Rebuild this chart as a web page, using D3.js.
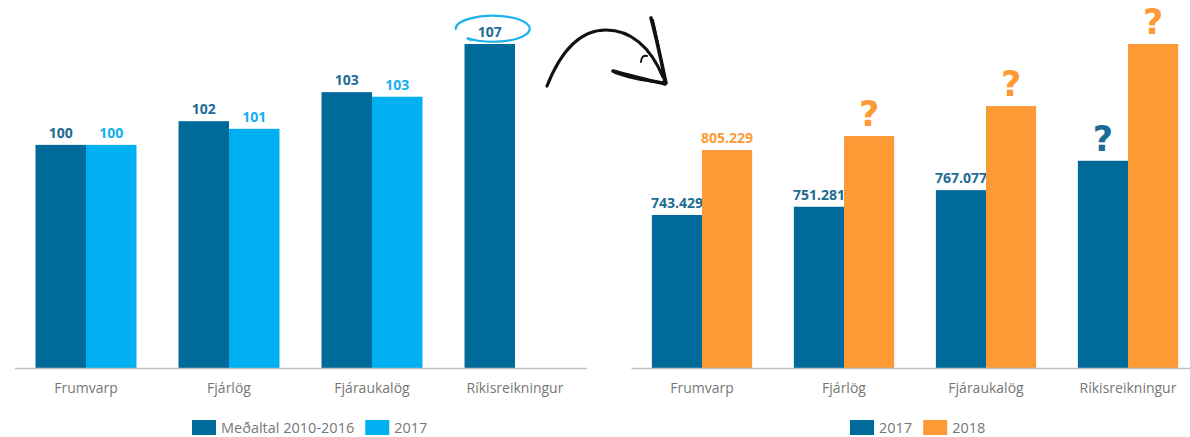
<!DOCTYPE html>
<html>
<head>
<meta charset="utf-8">
<script src="https://cdn.jsdelivr.net/npm/d3@7"></script>
<style>
  body { margin: 0; background: #fff; }
  svg { display: block; font-family: "Open Sans", sans-serif; }
  .axis .domain { stroke: #bfbfbf; stroke-width: 1.5; }
  .axis text { fill: #777; font-size: 14px; font-family: "Open Sans", sans-serif; }
  .legend text { fill: #777; font-size: 14.5px; }
</style>
</head>
<body>
<script>

// categories shared by both charts
var categories = ["Frumvarp", "Fjárlög", "Fjáraukalög", "Ríkisreikningur"];

// left chart: index, frumvarp = 100
var avg2010_2016 = [100, 101.55, 103.45, 106.6];
var index2017 = [100, 101.05, 103.15, null];

// right chart: m.kr. (values marked unknown are drawn with "?")
var spend2017 = [743429, 751281, 767077, 795000];
var spend2018 = [805229, 818500, 847000, 906000];
var known2017 = [true, true, true, false];
var known2018 = [true, false, false, false];

var width = 1190,
    height = 437,
    baseline = 368,
    plotTop = 44;

var dark = "#006a9a",
    light = "#00b0f0",
    orange = "#fd9a35";

var svg = d3.select("body").append("svg")
    .attr("width", width)
    .attr("height", height);

var isl = d3.formatLocale({decimal: ",", thousands: ".", grouping: [3], currency: ["", " kr."]});

function barChart(opts) {
    var x0 = d3.scaleBand()
        .domain(categories)
        .range(opts.range)
        .paddingInner(0.294)
        .paddingOuter(0.147);

    var x1 = d3.scaleBand()
        .domain(opts.series.map(function(s) { return s.name; }))
        .range([0, x0.bandwidth()]);

    var g = svg.append("g");

    opts.series.forEach(function(s) {
        var rows = categories.map(function(c, i) {
            return {cat: c, value: s.values[i], known: s.known ? s.known[i] : true};
        }).filter(function(d) { return d.value != null; });

        g.append("g").selectAll("rect")
            .data(rows)
            .enter().append("rect")
            .attr("x", function(d) { return x0(d.cat) + x1(s.name); })
            .attr("y", function(d) { return opts.y(d.value); })
            .attr("width", x1.bandwidth())
            .attr("height", function(d) { return baseline - opts.y(d.value); })
            .attr("fill", s.color);

        // value labels, or a big "?" where the number is not known yet
        g.append("g").selectAll("text")
            .data(rows)
            .enter().append("text")
            .attr("x", function(d) { return x0(d.cat) + x1(s.name) + x1.bandwidth() / 2; })
            .attr("y", function(d) { return opts.y(d.value) - (d.known ? 7 : 10); })
            .attr("text-anchor", "middle")
            .attr("font-weight", "bold")
            .attr("font-family", function(d) { return d.known ? "Open Sans, sans-serif" : "DejaVu Sans, sans-serif"; })
            .attr("font-size", function(d) { return d.known ? 14 : 35; })
            .attr("fill", s.labelColor)
            .text(function(d) { return d.known ? opts.format(d.value) : "?"; });
    });

    g.append("g")
        .attr("class", "axis")
        .attr("transform", "translate(0," + baseline + ")")
        .call(d3.axisBottom(x0).tickSize(0).tickSizeOuter(0).tickPadding(15));

    // legend
    var lg = g.append("g").attr("class", "legend").attr("transform", "translate(0,420)");
    var lx = opts.legendX;
    opts.series.forEach(function(s) {
        lg.append("rect")
            .attr("x", lx).attr("y", 0)
            .attr("width", 24).attr("height", 15)
            .attr("fill", s.color);
        var t = lg.append("text")
            .attr("x", lx + 29).attr("y", 13)
            .text(s.name);
        lx += 29 + t.node().getComputedTextLength() + 11;
    });

    return {x0: x0, x1: x1};
}

var yLeft = d3.scaleLinear().domain([85.4, 106.6]).range([baseline, plotTop]);
var yRight = d3.scaleLinear().domain([598000, 906000]).range([baseline, plotTop]);

var left = barChart({
    range: [14.5, 586.5],
    y: yLeft,
    format: d3.format(".0f"),
    legendX: 192,
    series: [
        {name: "Meðaltal 2010-2016", values: avg2010_2016, color: dark, labelColor: "#1d6c96"},
        {name: "2017", values: index2017, color: light, labelColor: "#16aeee"}
    ]
});

barChart({
    range: [631, 1199],
    y: yRight,
    format: isl.format(","),
    legendX: 850,
    series: [
        {name: "2017", values: spend2017, known: known2017, color: dark, labelColor: "#1d6c96"},
        {name: "2018", values: spend2018, known: known2018, color: orange, labelColor: orange}
    ]
});

// hand drawn ring round the 107 label
var rx = left.x0("Ríkisreikningur") + left.x1.bandwidth() / 2 + 3,
    ry = yLeft(avg2010_2016[3]) - 16;
svg.append("path")
    .attr("d", "M" + (rx - 37) + "," + (ry + 1) +
        " A37,13 0 1,1 " + (rx - 26) + "," + (ry + 10) +
        " L" + (rx - 22) + "," + (ry + 12))
    .attr("fill", "none")
    .attr("stroke", "#1cb1ec")
    .attr("stroke-width", 2.2)
    .attr("stroke-linecap", "round");

// curved arrow between the charts
var arrow = svg.append("g")
    .attr("fill", "none")
    .attr("stroke", "#111")
    .attr("stroke-linecap", "round");
arrow.append("path")
    .attr("d", "M547,86 C562,48 582,30 606,30 C630,30 650,46 663,77")
    .attr("stroke-width", 3.2);
arrow.append("path")
    .attr("d", "M651,18 C657,40 661,60 666,83")
    .attr("stroke-width", 3.6);
arrow.append("path")
    .attr("d", "M653,20 C658,42 662,62 664,82")
    .attr("stroke-width", 2);
arrow.append("path")
    .attr("d", "M613,71 C630,76 648,80 665,84")
    .attr("stroke-width", 3.6);
arrow.append("path")
    .attr("d", "M615,73 C632,79 649,82 663,82")
    .attr("stroke-width", 2);
arrow.append("path")
    .attr("d", "M641,62 C641,57 644,55 647,56")
    .attr("stroke-width", 2);

</script>
</body>
</html>
